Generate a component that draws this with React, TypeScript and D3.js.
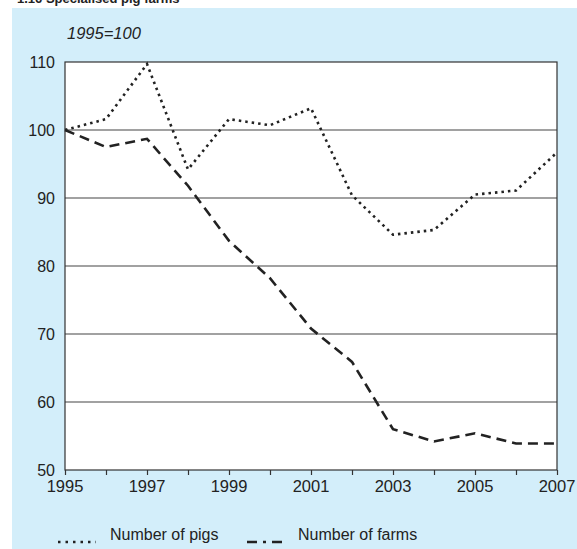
import * as React from 'react';
import * as d3 from 'd3';

const years = [1995, 1996, 1997, 1998, 1999, 2000, 2001, 2002, 2003, 2004, 2005, 2006, 2007];
const pigs = [100, 101.6, 109.7, 94.2, 101.6, 100.7, 103.2, 90.4, 84.6, 85.3, 90.5, 91.1, 96.7];
const farms = [100, 97.5, 98.7, 91.8, 83.7, 78.2, 70.8, 65.9, 56.0, 54.2, 55.4, 53.9, 53.9];
const yTicks = [50, 60, 70, 80, 90, 100, 110];
const xTickLabels = [1995, 1997, 1999, 2001, 2003, 2005, 2007];

const FONT = 'Arial, "Liberation Sans", Helvetica, sans-serif';

export default function App() {
  const ref = React.useRef<SVGSVGElement>(null);

  React.useEffect(() => {
    const svg = d3.select(ref.current);
    svg.selectAll('*').remove();

    const x = d3.scaleLinear().domain([1995, 2007]).range([65, 557]);
    const y = d3.scaleLinear().domain([50, 110]).range([470, 62]);

    // background panel
    svg.append('rect').attr('x', 12).attr('y', 8).attr('width', 565).attr('height', 541).attr('fill', '#d3eefa');

    svg.append('text')
      .attr('x', 17).attr('y', 3)
      .attr('font-family', FONT).attr('font-size', '13px').attr('font-weight', 'bold')
      .attr('fill', '#222')
      .text('1.16   Specialised pig farms');

    svg.append('text')
      .attr('x', 67).attr('y', 39)
      .attr('font-family', FONT).attr('font-size', '16.5px').attr('font-style', 'italic')
      .attr('fill', '#222')
      .text('1995=100');

    // plot area
    svg.append('rect')
      .attr('x', x(1995)).attr('y', y(110))
      .attr('width', x(2007) - x(1995)).attr('height', y(50) - y(110))
      .attr('fill', '#fff');

    // gridlines
    svg.append('g').selectAll('line')
      .data(yTicks.filter(d => d > 50 && d < 110))
      .join('line')
      .attr('x1', x(1995)).attr('x2', x(2007))
      .attr('y1', d => y(d)).attr('y2', d => y(d))
      .attr('stroke', '#444').attr('stroke-width', 1.2);

    // frame
    svg.append('rect')
      .attr('x', x(1995)).attr('y', y(110))
      .attr('width', x(2007) - x(1995)).attr('height', y(50) - y(110))
      .attr('fill', 'none').attr('stroke', '#333').attr('stroke-width', 1.2);

    // y labels
    svg.append('g').selectAll('text')
      .data(yTicks)
      .join('text')
      .attr('x', 55).attr('y', d => y(d))
      .attr('dy', '0.36em')
      .attr('text-anchor', 'end')
      .attr('font-family', FONT).attr('font-size', '16px').attr('fill', '#222')
      .text(d => d);

    // x ticks
    const xAxis = d3.axisBottom(x).tickValues(years).tickSize(5).tickFormat(() => '');
    const ax = svg.append('g').attr('transform', `translate(0,${y(50)})`).call(xAxis);
    ax.select('.domain').remove();
    ax.selectAll('line').attr('stroke', '#333').attr('stroke-width', 1.2);

    svg.append('g').selectAll('text')
      .data(xTickLabels)
      .join('text')
      .attr('x', d => x(d)).attr('y', 492)
      .attr('text-anchor', 'middle')
      .attr('font-family', FONT).attr('font-size', '16.5px').attr('fill', '#222')
      .text(d => d);

    const line = d3.line<number>().x((_, i) => x(years[i])).y(d => y(d));

    svg.append('path')
      .attr('d', line(pigs))
      .attr('fill', 'none').attr('stroke', '#222').attr('stroke-width', 2.6)
      .attr('stroke-dasharray', '2.5,4');

    svg.append('path')
      .attr('d', line(farms))
      .attr('fill', 'none').attr('stroke', '#222').attr('stroke-width', 2.6)
      .attr('stroke-dasharray', '10,6');

    // legend
    const leg = svg.append('g');
    leg.append('line').attr('x1', 58).attr('x2', 96).attr('y1', 542).attr('y2', 542)
      .attr('stroke', '#222').attr('stroke-width', 2.6).attr('stroke-dasharray', '2.5,5');
    leg.append('text').attr('x', 110).attr('y', 540)
      .attr('font-family', FONT).attr('font-size', '16px').attr('fill', '#222')
      .text('Number of pigs');
    leg.append('line').attr('x1', 247).attr('x2', 284).attr('y1', 542).attr('y2', 542)
      .attr('stroke', '#222').attr('stroke-width', 2.6).attr('stroke-dasharray', '10,6,3,6');
    leg.append('text').attr('x', 298).attr('y', 540)
      .attr('font-family', FONT).attr('font-size', '16px').attr('fill', '#222')
      .text('Number of farms');
  }, []);

  return (
    <svg
      ref={ref}
      width={577}
      height={549}
      style={{ position: 'absolute', left: 0, top: 0, background: '#fff' }}
    />
  );
}
